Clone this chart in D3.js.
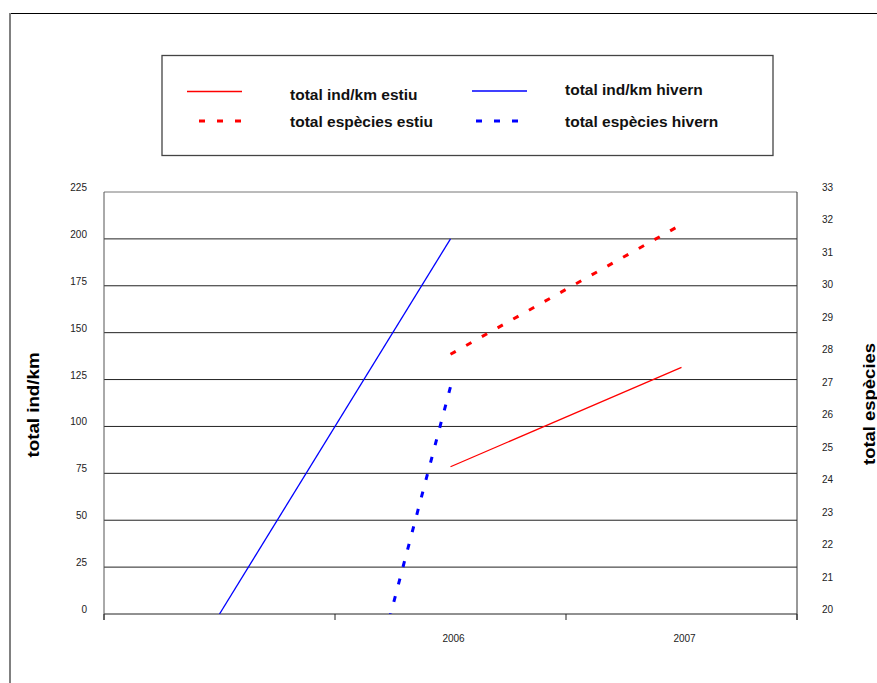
<!DOCTYPE html>
<html>
<head>
  <meta charset="utf-8">
  <title>total ind/km i total espècies</title>
  <style>
    body { margin: 0; background: #fff; }
    svg { display: block; font-family: "Liberation Sans", Arial, sans-serif; }
  </style>
  <script src="https://d3js.org/d3.v7.min.js"></script>
</head>
<body>
  <div id="chart"></div>
  <script>
    // ***** data *****
    const categories = ["", "2006", "2007"];
    const indEstiu   = [null, 78.5, 131.5];   // total ind/km estiu (left axis)
    const indHivern  = [0, 200, null];        // total ind/km hivern (left axis)
    const espEstiu   = [null, 28, 32];        // total espècies estiu (right axis)
    const espHivern  = [0, 27, null];         // total espècies hivern (right axis)
    const leftTicks  = [0, 25, 50, 75, 100, 125, 150, 175, 200, 225];
    const rightTicks = [20, 21, 22, 23, 24, 25, 26, 27, 28, 29, 30, 31, 32, 33];

    const width = 877, height = 683;
    const plot = { left: 104, right: 797, top: 192, bottom: 614 };

    const svg = d3.select("#chart").append("svg")
      .attr("width", width)
      .attr("height", height);

    // outer frame (only top and left edges are inside the picture)
    svg.append("line").attr("x1", 10).attr("x2", width).attr("y1", 13.5).attr("y2", 13.5)
      .attr("stroke", "#000").attr("stroke-width", 1.2);
    svg.append("line").attr("x1", 10).attr("x2", 10).attr("y1", 13).attr("y2", height)
      .attr("stroke", "#808080").attr("stroke-width", 2);

    // scales
    const x = d3.scaleBand().domain(categories).range([plot.left, plot.right]);
    const cx = c => x(c) + x.bandwidth() / 2;
    const yLeft = d3.scaleLinear().domain([0, 225]).range([plot.bottom, plot.top]);
    const yRight = d3.scaleLinear().domain([20, 33]).range([plot.bottom, plot.top]);

    // gridlines
    svg.append("g").selectAll("line").data(leftTicks).join("line")
      .attr("x1", plot.left).attr("x2", plot.right)
      .attr("y1", d => yLeft(d)).attr("y2", d => yLeft(d))
      .attr("stroke", d => d === 225 ? "#777" : "#222")
      .attr("stroke-width", 1);

    // plot frame sides
    svg.append("line").attr("x1", plot.left).attr("x2", plot.left)
      .attr("y1", plot.top).attr("y2", plot.bottom + 6).attr("stroke", "#555");
    svg.append("line").attr("x1", plot.right).attr("x2", plot.right)
      .attr("y1", plot.top).attr("y2", plot.bottom + 6).attr("stroke", "#333");

    // x ticks on the band edges
    const edges = categories.map(c => x(c)).concat([plot.right]);
    svg.append("g").selectAll("line").data(edges).join("line")
      .attr("x1", d => d).attr("x2", d => d)
      .attr("y1", plot.bottom).attr("y2", plot.bottom + 6)
      .attr("stroke", "#222");

    // x labels
    svg.append("g").selectAll("text").data(categories).join("text")
      .attr("x", d => cx(d) + 3)
      .attr("y", 642)
      .attr("text-anchor", "middle")
      .attr("font-size", 10)
      .attr("fill", "#222")
      .text(d => d);

    // left tick labels
    svg.append("g").selectAll("text").data(leftTicks).join("text")
      .attr("x", 87)
      .attr("y", d => yLeft(d) - 1)
      .attr("text-anchor", "end")
      .attr("font-size", 10)
      .attr("fill", "#222")
      .text(d => d);

    // right tick labels
    svg.append("g").selectAll("text").data(rightTicks).join("text")
      .attr("x", 822)
      .attr("y", d => yRight(d) - 1)
      .attr("font-size", 10)
      .attr("fill", "#222")
      .text(d => d);

    // axis titles
    svg.append("text")
      .attr("transform", "translate(39,405) rotate(-90)")
      .attr("text-anchor", "middle")
      .attr("font-size", 16)
      .attr("font-weight", "bold")
      .attr("textLength", 105)
      .attr("lengthAdjust", "spacingAndGlyphs")
      .text("total ind/km");
    svg.append("text")
      .attr("transform", "translate(875,404) rotate(-90)")
      .attr("text-anchor", "middle")
      .attr("font-size", 16)
      .attr("font-weight", "bold")
      .attr("textLength", 122)
      .attr("lengthAdjust", "spacingAndGlyphs")
      .text("total espècies");

    // clip to plot area
    svg.append("clipPath").attr("id", "clip")
      .append("rect")
      .attr("x", plot.left).attr("y", plot.top)
      .attr("width", plot.right - plot.left).attr("height", plot.bottom - plot.top);

    const series = [
      { name: "total ind/km estiu",    values: indEstiu,  y: yLeft,  color: "#ff0000", dash: null },
      { name: "total ind/km hivern",   values: indHivern, y: yLeft,  color: "#0000ff", dash: null },
      { name: "total espècies estiu",  values: espEstiu,  y: yRight, color: "#ff0000", dash: "6,12" },
      { name: "total espècies hivern", values: espHivern, y: yRight, color: "#0000ff", dash: "6,12" }
    ];

    const lines = svg.append("g").attr("clip-path", "url(#clip)");
    series.forEach(s => {
      const line = d3.line()
        .defined(d => d.v != null)
        .x(d => cx(d.c))
        .y(d => s.y(d.v));
      lines.append("path")
        .datum(categories.map((c, i) => ({ c: c, v: s.values[i] })))
        .attr("d", line)
        .attr("fill", "none")
        .attr("stroke", s.color)
        .attr("stroke-width", s.dash ? 3 : 1.3)
        .attr("stroke-dasharray", s.dash);
    });

    // legend
    const legend = svg.append("g");
    legend.append("rect")
      .attr("x", 162).attr("y", 55.5)
      .attr("width", 611).attr("height", 100)
      .attr("fill", "#fff").attr("stroke", "#444").attr("stroke-width", 1.3);

    const legendPos = [
      { lx: 187, ly: 91.5, tx: 290, ty: 100 },
      { lx: 472, ly: 91,   tx: 565, ty: 95 },
      { lx: 199, ly: 121,  tx: 290, ty: 127 },
      { lx: 476, ly: 121,  tx: 565, ty: 127 }
    ];
    series.forEach((s, i) => {
      const p = legendPos[i];
      legend.append("line")
        .attr("x1", p.lx).attr("x2", s.dash ? p.lx + 48 : p.lx + 55)
        .attr("y1", p.ly).attr("y2", p.ly)
        .attr("stroke", s.color)
        .attr("stroke-width", s.dash ? 3 : 1.3)
        .attr("stroke-dasharray", s.dash);
      legend.append("text")
        .attr("x", p.tx).attr("y", p.ty)
        .attr("font-size", 15.5)
        .attr("font-weight", "bold")
        .attr("fill", "#111")
        .text(s.name);
    });
  </script>
</body>
</html>
